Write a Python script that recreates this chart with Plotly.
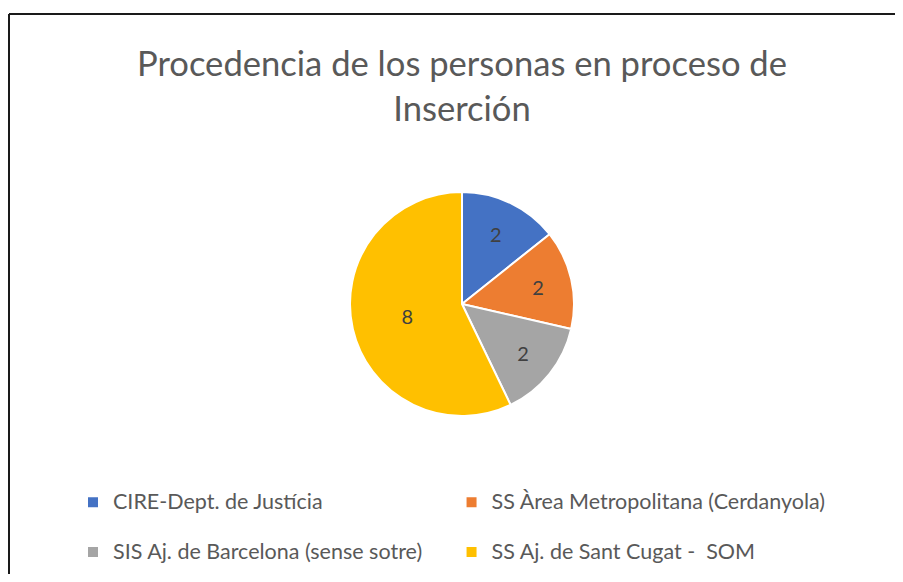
import plotly.graph_objects as go

labels = [
    "CIRE-Dept. de Justícia",
    "SS Àrea Metropolitana (Cerdanyola)",
    "SIS Aj. de Barcelona (sense sotre)",
    "SS Aj. de Sant Cugat -  SOM",
]
values = [2, 2, 2, 8]
colors = ["#4472C4", "#ED7D31", "#A5A5A5", "#FFC000"]

title_text = "Procedencia de los personas en proceso de<br>Inserción"

# the page adds an 8px body margin, so the figure is drawn 8px in from the corner
OFF = 8
W, H = 903 - 2 * OFF, 582 - 2 * OFF


def px_x(x):
    # page pixel -> paper fraction (plot area == whole figure)
    return (x - OFF) / W


def px_y(y):
    return (H - (y - OFF)) / H


# legend text is drawn at 21.5px, rows spaced on an 18px line height;
# first row gets a blank second line so the rows sit further apart
legend_names = []
for i, lab in enumerate(labels):
    name = "<span style='font-size:21.5px'>" + lab + "</span>"
    if i < 2:
        name += "<br> "
    legend_names.append(name)

fig = go.Figure()
fig.add_trace(go.Pie(
    labels=legend_names,
    values=values,
    sort=False,
    direction="clockwise",
    rotation=0,
    marker=dict(colors=colors, line=dict(color="white", width=2)),
    textinfo="value",
    textposition="inside",
    insidetextorientation="horizontal",
    textfont=dict(family="Lato", size=20, color="#404040"),
    domain=dict(x=[px_x(350), px_x(574)], y=[px_y(416), px_y(192)]),
    hoverinfo="label+value",
))

# chart frame (only left and top edges fall inside the picture)
frame = dict(color="#1a1a1a", width=2)
fig.add_shape(type="line", xref="paper", yref="paper",
              x0=px_x(9), x1=px_x(9), y0=px_y(700), y1=px_y(14), line=frame)
fig.add_shape(type="line", xref="paper", yref="paper",
              x0=px_x(9), x1=px_x(1000), y0=px_y(14), y1=px_y(14), line=frame)

fig.update_layout(
    width=W, height=H,
    margin=dict(l=0, r=0, t=0, b=0),
    paper_bgcolor="white",
    plot_bgcolor="white",
    font=dict(family="Lato", color="#595959"),
    title=dict(text=title_text, x=(462 - OFF) / W, xanchor="center",
               y=1 - (76 - OFF) / H, yanchor="top",
               font=dict(family="Lato", size=34.6, color="#595959")),
    showlegend=True,
    legend=dict(
        orientation="h",
        x=px_x(73), xanchor="left",
        y=px_y(484), yanchor="top",
        valign="top",
        font=dict(family="Lato", size=18, color="#595959"),
        traceorder="normal",
    ),
)

fig.write_html("out.html", post_script="document.body.style.overflow = 'hidden';")
